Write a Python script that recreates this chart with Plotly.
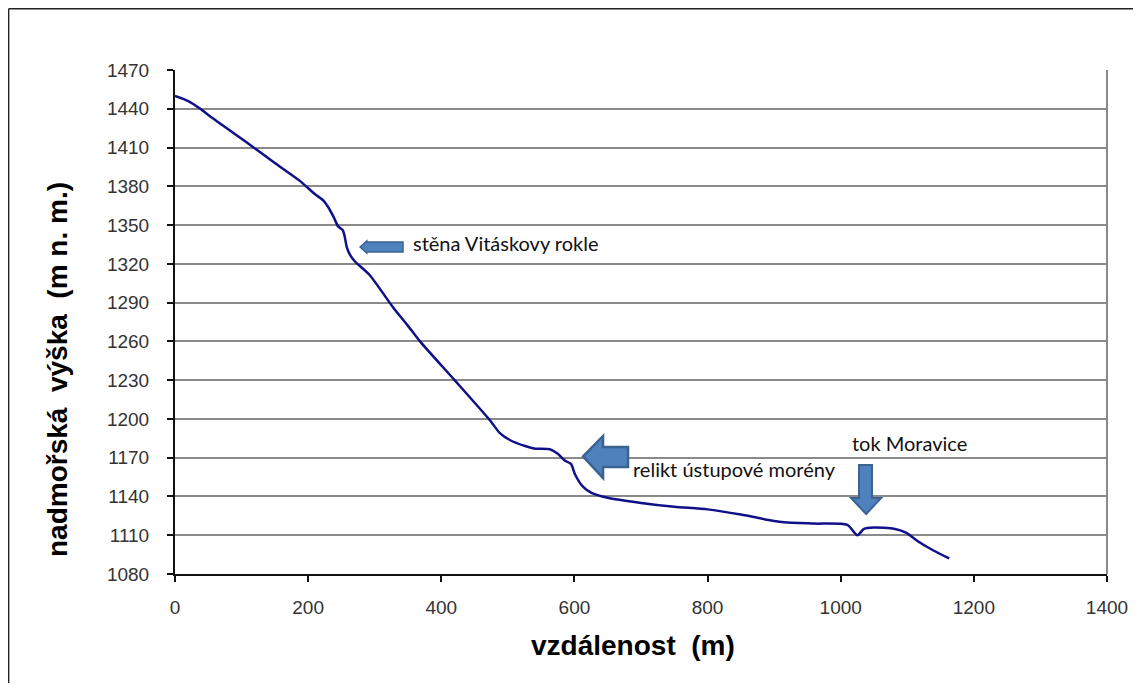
import plotly.graph_objects as go

# profile data: distance (m) vs elevation (m n. m.)
distance = [0, 20, 38, 53, 113, 150, 188, 210, 223, 230, 238, 245, 252, 255, 258, 263, 270,
            293, 328, 350, 368, 420, 473, 488, 503, 526, 541, 563, 575, 585, 595, 601, 612,
            625, 650, 700, 750, 800, 850, 900, 915, 960, 1010, 1025, 1035, 1050, 1080, 1098,
            1117, 1140, 1163]
elevation = [1450, 1446, 1440, 1434, 1412, 1398, 1384, 1374, 1369, 1364, 1356.5, 1349, 1346,
             1341, 1333, 1327, 1322, 1311, 1286, 1272, 1260, 1230, 1199, 1189, 1183.7, 1179,
             1177, 1176.5, 1173, 1168, 1165, 1157, 1148, 1143, 1139, 1135, 1132, 1130, 1126,
             1121, 1120, 1119, 1118, 1110, 1115, 1116, 1115, 1112, 1105, 1098, 1092]

x_ticks = [0, 200, 400, 600, 800, 1000, 1200, 1400]
y_ticks = [1080, 1110, 1140, 1170, 1200, 1230, 1260, 1290, 1320, 1350, 1380, 1410, 1440, 1470]

x_title = "vzdálenost  (m)"
y_title = "nadmořská  výška  (m n. m.)"

notes = ["stěna Vitáskovy rokle", "relikt ústupové morény", "tok Moravice"]
note_x = [342, 673, 1002]
note_y = [1336, 1161, 1181]

# block-arrow outlines (data coordinates)
arrow1_x = [278, 288, 288, 342.5, 342.5, 288, 288, 278]
arrow1_y = [1333, 1337.7, 1336.9, 1336.9, 1329.2, 1329.2, 1328.4, 1333]
arrow2_x = [613, 643, 643, 680.5, 680.5, 643, 643, 613]
arrow2_y = [1171, 1186.8, 1178.3, 1178.3, 1162.8, 1162.8, 1154.3, 1171]
arrow3_x = [1027.5, 1047, 1047, 1060.6, 1038.2, 1015.5, 1027.5, 1027.5]
arrow3_y = [1164.3, 1164.3, 1138.8, 1138.8, 1126.4, 1138.8, 1138.8, 1164.3]


def path(xs, ys):
    return "M " + " L ".join(f"{a},{b}" for a, b in zip(xs, ys)) + " Z"


fig = go.Figure()
fig.add_trace(go.Scatter(x=distance, y=elevation, mode="lines",
                         line=dict(color="#10108a", width=2.5, shape="spline", smoothing=0.6),
                         hoverinfo="skip", showlegend=False))

shapes = []
for xs, ys, lw in [(arrow1_x, arrow1_y, 1.5), (arrow2_x, arrow2_y, 2.5), (arrow3_x, arrow3_y, 2)]:
    shapes.append(dict(type="path", xref="x", yref="y", path=path(xs, ys),
                       fillcolor="#4f81bd", line=dict(color="#3a6391", width=lw)))
# outer chart border (left and top edges visible)
shapes.append(dict(type="line", xref="paper", yref="paper", x0=-0.1785, x1=1.03, y0=1.1215, y1=1.1215,
                   line=dict(color="#222222", width=1.5)))
shapes.append(dict(type="line", xref="paper", yref="paper", x0=-0.1785, x1=-0.1785, y0=1.1215, y1=-0.22,
                   line=dict(color="#222222", width=1.5)))
# plot area right edge
shapes.append(dict(type="line", xref="paper", yref="paper", x0=1, x1=1, y0=0, y1=1,
                   line=dict(color="#8a8a8a", width=2)))

title_font = dict(family="Arial, Liberation Sans, sans-serif", size=28, color="#000000", weight="bold")
annotations = []
for t, ax_, ay_ in zip(notes, note_x, note_y):
    annotations.append(dict(x=ax_, y=ay_, xref="x", yref="y", text=t, showarrow=False,
                            xanchor="left", yanchor="middle", xshift=8,
                            font=dict(family="Lato, Carlito, sans-serif", size=20, color="#111111")))
annotations.append(dict(x=0.4914, y=-0.1409, xref="paper", yref="paper", text=x_title,
                        showarrow=False, xanchor="center", yanchor="middle", font=title_font))
annotations.append(dict(x=-0.1255, y=0.4048, xref="paper", yref="paper", text=y_title,
                        showarrow=False, xanchor="center", yanchor="middle", textangle=-90,
                        font=title_font))

fig.update_layout(
    width=1125, height=675,
    margin=dict(l=167, r=26, t=62, b=109, autoexpand=False),
    paper_bgcolor="white", plot_bgcolor="white",
    shapes=shapes, annotations=annotations,
    font=dict(family="Arial, Liberation Sans, sans-serif"),
)
fig.update_xaxes(range=[0, 1400], tickvals=x_ticks, ticktext=[str(v) for v in x_ticks],
                 showgrid=False, zeroline=False, showline=True, linecolor="#111111", linewidth=2,
                 ticks="outside", ticklen=6, tickwidth=1.5, tickcolor="#111111",
                 ticklabelstandoff=9, automargin=False,
                 tickfont=dict(family="Arial, Liberation Sans, sans-serif", size=19, color="#333333"))
fig.update_yaxes(range=[1080, 1470], tickvals=y_ticks, ticktext=[str(v) for v in y_ticks],
                 showgrid=True, gridcolor="#8a8a8a", gridwidth=1.5, zeroline=False,
                 showline=True, linecolor="#111111", linewidth=2,
                 ticks="outside", ticklen=6, tickwidth=1.5, tickcolor="#111111",
                 ticklabelstandoff=14, automargin=False,
                 tickfont=dict(family="Arial, Liberation Sans, sans-serif", size=19, color="#333333"))

fig.write_html("out.html")
